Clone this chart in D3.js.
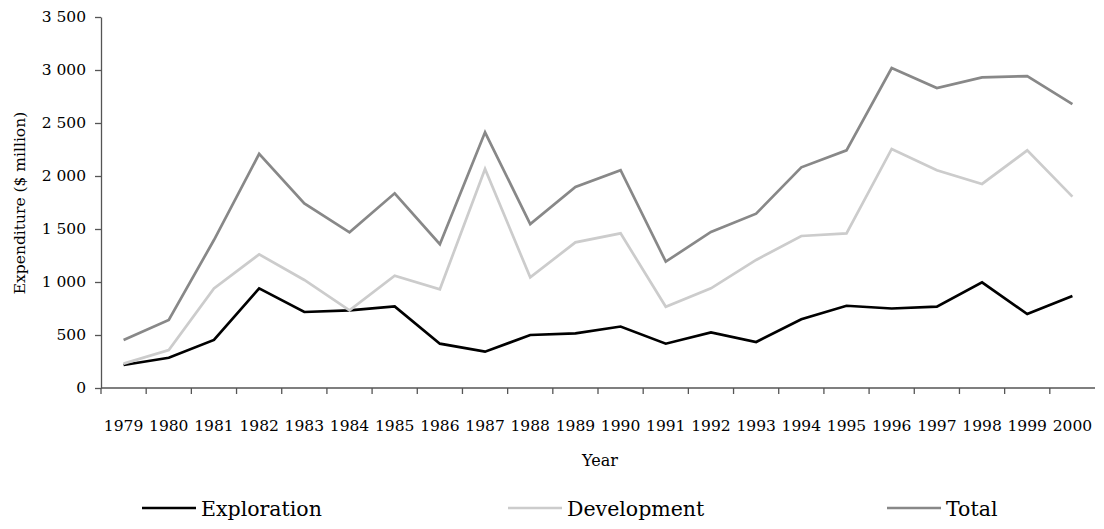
<!DOCTYPE html>
<html>
<head>
<meta charset="utf-8">
<script src="https://cdn.jsdelivr.net/npm/d3@7"></script>
<style>
  body { margin: 0; background: #fff; }
</style>
</head>
<body>
<svg id="chart" width="1104" height="529"></svg>
<script>
var years = [1979, 1980, 1981, 1982, 1983, 1984, 1985, 1986, 1987, 1988, 1989,
             1990, 1991, 1992, 1993, 1994, 1995, 1996, 1997, 1998, 1999, 2000];
var exploration = [217, 285, 453, 940, 717, 733, 770, 418, 343, 500, 516,
                   580, 418, 525, 434, 648, 776, 750, 767, 997, 698, 868];
var development = [230, 358, 940, 1261, 1019, 733, 1060, 931, 2066, 1044, 1374,
                   1459, 767, 940, 1208, 1434, 1459, 2255, 2054, 1925, 2242, 1805];
var total = [453, 642, 1396, 2208, 1742, 1469, 1837, 1356, 2412, 1547, 1896,
             2054, 1192, 1472, 1645, 2082, 2242, 3019, 2830, 2931, 2943, 2679];
var yTicks = [0, 500, 1000, 1500, 2000, 2500, 3000, 3500];

var series = [
    {name: "Exploration", values: exploration, color: "#000000"},
    {name: "Development", values: development, color: "#cccccc"},
    {name: "Total", values: total, color: "#888888"}
];

var margin = {left: 101, right: 1095, top: 17, bottom: 388};
var axisColor = "#555";
var serif = "'DejaVu Serif', serif";

var svg = d3.select("#chart").attr("font-family", serif);

var x = d3.scaleBand()
    .domain(years)
    .range([margin.left, margin.right])
    .padding(0);

var y = d3.scaleLinear()
    .domain([0, 3500])
    .range([margin.bottom, margin.top]);

var fmt = d3.format(",");

// y axis
var yAxis = svg.append("g")
    .attr("transform", `translate(${margin.left},0)`)
    .call(d3.axisLeft(y)
        .tickValues(yTicks)
        .tickSize(6)
        .tickSizeOuter(0)
        .tickPadding(9)
        .tickFormat(d => fmt(d).replace(/,/g, " ")));
yAxis.attr("font-family", serif);
yAxis.select(".domain").attr("stroke", axisColor).attr("stroke-width", 1.3);
yAxis.selectAll(".tick line").attr("stroke", axisColor).attr("stroke-width", 1.3);
yAxis.selectAll(".tick text")
    .attr("fill", "#000")
    .style("font-family", serif)
    .style("font-size", "15.5px");

// x axis: labels at band centres, ticks at band edges
var xg = svg.append("g");
xg.append("line")
    .attr("x1", margin.left).attr("x2", margin.right)
    .attr("y1", margin.bottom).attr("y2", margin.bottom)
    .attr("stroke", axisColor).attr("stroke-width", 1.3);
xg.selectAll("line.tick")
    .data(years)
    .join("line")
    .attr("class", "tick")
    .attr("x1", d => x(d)).attr("x2", d => x(d))
    .attr("y1", margin.bottom).attr("y2", margin.bottom + 6)
    .attr("stroke", axisColor).attr("stroke-width", 1.3);
xg.selectAll("text")
    .data(years)
    .join("text")
    .attr("x", d => x(d) + x.bandwidth() / 2)
    .attr("y", 431)
    .attr("text-anchor", "middle")
    .style("font-family", serif)
    .style("font-size", "15.5px")
    .text(d => d);

// axis titles
svg.append("text")
    .attr("transform", "translate(25,203) rotate(-90)")
    .attr("text-anchor", "middle")
    .style("font-family", serif)
    .style("font-size", "15.5px")
    .text("Expenditure ($ million)");

svg.append("text")
    .attr("x", 600)
    .attr("y", 466)
    .attr("text-anchor", "middle")
    .style("font-family", serif)
    .style("font-size", "16px")
    .text("Year");

// lines
var line = d3.line()
    .x((d, i) => x(years[i]) + x.bandwidth() / 2)
    .y(d => y(d));

svg.append("g")
    .selectAll("path")
    .data(series)
    .join("path")
    .attr("fill", "none")
    .attr("stroke", d => d.color)
    .attr("stroke-width", 2.7)
    .attr("stroke-linejoin", "miter")
    .attr("d", d => line(d.values));

// legend
var legendX = [142, 508, 887];
var legend = svg.append("g")
    .selectAll("g")
    .data(series)
    .join("g")
    .attr("transform", (d, i) => `translate(${legendX[i]},508)`);
legend.append("line")
    .attr("x1", 0).attr("x2", 54)
    .attr("y1", 0).attr("y2", 0)
    .attr("stroke", d => d.color)
    .attr("stroke-width", 2.7);
legend.append("text")
    .attr("x", 59)
    .attr("y", 8)
    .style("font-family", serif)
    .style("font-size", "20.5px")
    .text(d => d.name);
</script>
</body>
</html>
